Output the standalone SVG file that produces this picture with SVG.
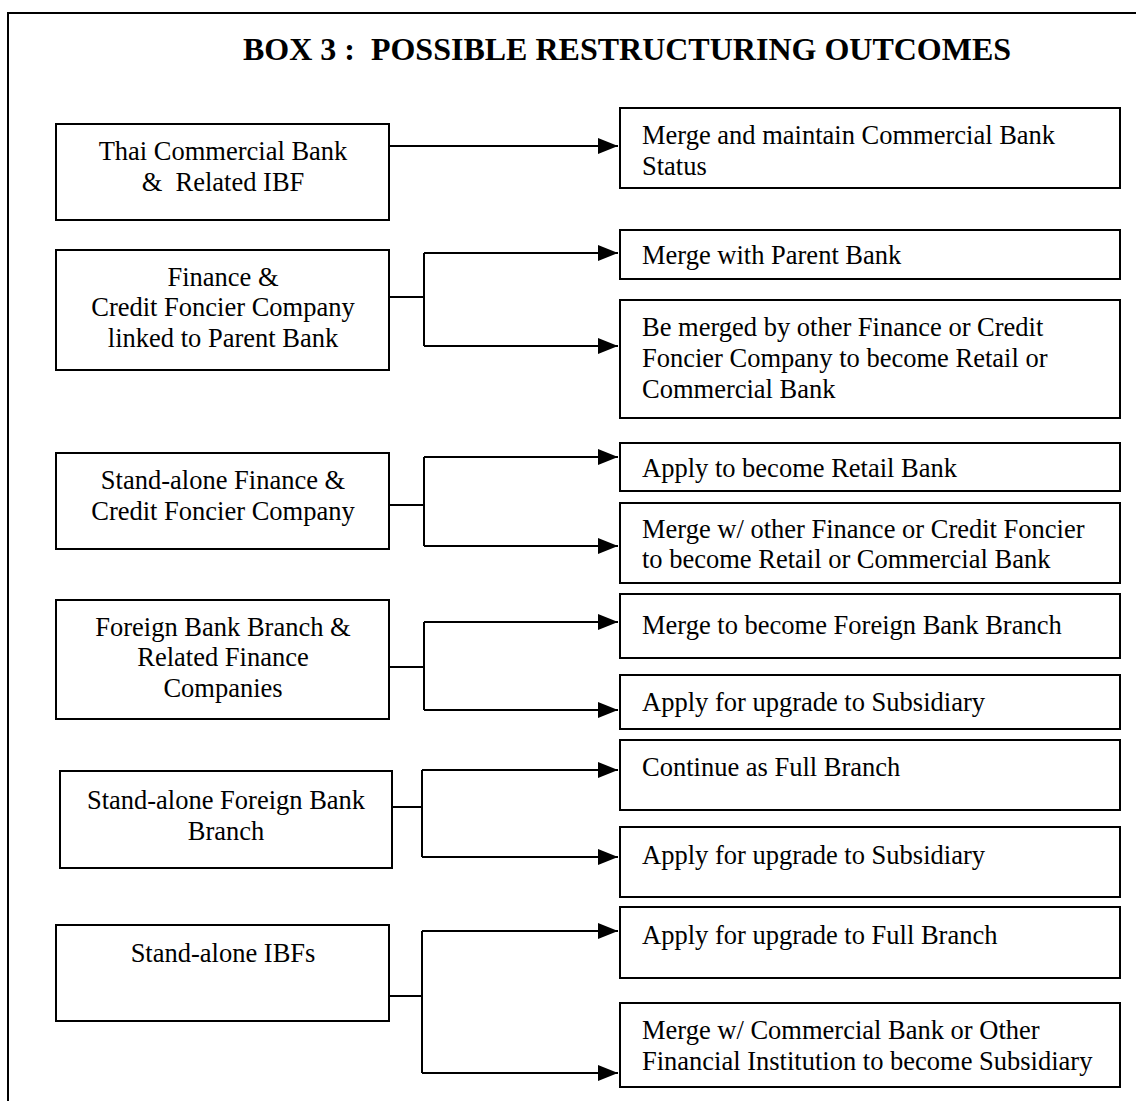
<svg xmlns="http://www.w3.org/2000/svg" width="1136" height="1101" viewBox="0 0 1136 1101">
<style>
text{font-family:"Liberation Serif","Times New Roman",serif;font-size:26.5px;fill:#000}
.t{font-weight:bold;font-size:32px}
.c{text-anchor:middle}
.box{fill:#fff;stroke:#000;stroke-width:2}
.ln{fill:none;stroke:#000;stroke-width:2}
</style>
<defs>
<marker id="ah" markerWidth="22" markerHeight="16" refX="20" refY="8" orient="auto" markerUnits="userSpaceOnUse">
<path d="M0,0 L20,8 L0,16 Z" fill="#000"/>
</marker>
</defs>
<rect width="1136" height="1101" fill="#fff"/>
<path class="ln" d="M8,1101 V13 H1136"/>
<text class="t" x="627" y="60" text-anchor="middle" xml:space="preserve">BOX 3 :  POSSIBLE RESTRUCTURING OUTCOMES</text>

<g id="connectors">
<path class="ln" d="M389,146 H618" marker-end="url(#ah)"/>
<path class="ln" d="M389,297 H424"/>
<path class="ln" d="M424,253 V346"/>
<path class="ln" d="M424,253 H618" marker-end="url(#ah)"/>
<path class="ln" d="M424,346 H618" marker-end="url(#ah)"/>
<path class="ln" d="M389,505 H424"/>
<path class="ln" d="M424,457 V546"/>
<path class="ln" d="M424,457 H618" marker-end="url(#ah)"/>
<path class="ln" d="M424,546 H618" marker-end="url(#ah)"/>
<path class="ln" d="M389,667 H424"/>
<path class="ln" d="M424,622 V710"/>
<path class="ln" d="M424,622 H618" marker-end="url(#ah)"/>
<path class="ln" d="M424,710 H618" marker-end="url(#ah)"/>
<path class="ln" d="M389,807 H422"/>
<path class="ln" d="M422,770 V857"/>
<path class="ln" d="M422,770 H618" marker-end="url(#ah)"/>
<path class="ln" d="M422,857 H618" marker-end="url(#ah)"/>
<path class="ln" d="M389,996 H422"/>
<path class="ln" d="M422,931 V1073"/>
<path class="ln" d="M422,931 H618" marker-end="url(#ah)"/>
<path class="ln" d="M422,1073 H618" marker-end="url(#ah)"/>
</g>

<g id="src1"><rect class="box" x="56" y="124" width="333" height="96"/>
<text class="c" x="223" y="160">Thai Commercial Bank</text>
<text class="c" x="223" y="191" xml:space="preserve">&amp;  Related IBF</text></g>
<g id="src2"><rect class="box" x="56" y="250" width="333" height="120"/>
<text class="c" x="223" y="286">Finance &amp;</text>
<text class="c" x="223" y="316">Credit Foncier Company</text>
<text class="c" x="223" y="347">linked to Parent Bank</text></g>
<g id="src3"><rect class="box" x="56" y="453" width="333" height="96"/>
<text class="c" x="223" y="489">Stand-alone Finance &amp;</text>
<text class="c" x="223" y="520">Credit Foncier Company</text></g>
<g id="src4"><rect class="box" x="56" y="600" width="333" height="119"/>
<text class="c" x="223" y="636">Foreign Bank Branch &amp;</text>
<text class="c" x="223" y="666">Related Finance</text>
<text class="c" x="223" y="697">Companies</text></g>
<g id="src5"><rect class="box" x="60" y="771" width="332" height="97"/>
<text class="c" x="226" y="809">Stand-alone Foreign Bank</text>
<text class="c" x="226" y="840">Branch</text></g>
<g id="src6"><rect class="box" x="56" y="925" width="333" height="96"/>
<text class="c" x="223" y="962">Stand-alone IBFs</text></g>

<g id="out1"><rect class="box" x="620" y="108" width="500" height="80"/>
<text x="642" y="144">Merge and maintain Commercial Bank</text>
<text x="642" y="175">Status</text></g>
<g id="out2"><rect class="box" x="620" y="230" width="500" height="49"/>
<text x="642" y="264">Merge with Parent Bank</text></g>
<g id="out3"><rect class="box" x="620" y="300" width="500" height="118"/>
<text x="642" y="336">Be merged by other Finance or Credit</text>
<text x="642" y="367">Foncier Company to become Retail or</text>
<text x="642" y="398">Commercial Bank</text></g>
<g id="out4"><rect class="box" x="620" y="443" width="500" height="48"/>
<text x="642" y="477">Apply to become Retail Bank</text></g>
<g id="out5"><rect class="box" x="620" y="503" width="500" height="80"/>
<text x="642" y="538">Merge w/ other Finance or Credit Foncier</text>
<text x="642" y="568">to become Retail or Commercial Bank</text></g>
<g id="out6"><rect class="box" x="620" y="594" width="500" height="64"/>
<text x="642" y="634">Merge to become Foreign Bank Branch</text></g>
<g id="out7"><rect class="box" x="620" y="675" width="500" height="54"/>
<text x="642" y="711">Apply for upgrade to Subsidiary</text></g>
<g id="out8"><rect class="box" x="620" y="740" width="500" height="70"/>
<text x="642" y="776">Continue as Full Branch</text></g>
<g id="out9"><rect class="box" x="620" y="827" width="500" height="70"/>
<text x="642" y="864">Apply for upgrade to Subsidiary</text></g>
<g id="out10"><rect class="box" x="620" y="907" width="500" height="71"/>
<text x="642" y="944">Apply for upgrade to Full Branch</text></g>
<g id="out11"><rect class="box" x="620" y="1003" width="500" height="84"/>
<text x="642" y="1039">Merge w/ Commercial Bank or Other</text>
<text x="642" y="1070">Financial Institution to become Subsidiary</text></g>
</svg>
